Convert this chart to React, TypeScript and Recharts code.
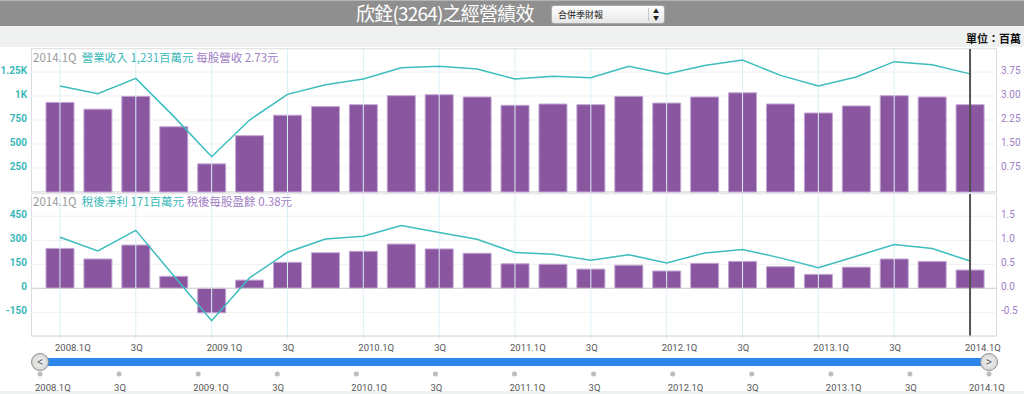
import { ComposedChart, LineChart, Bar, Line, XAxis, YAxis, CartesianGrid, ReferenceLine } from 'recharts';

const quarters = [
  '2008.1Q', '2008.2Q', '2008.3Q', '2008.4Q',
  '2009.1Q', '2009.2Q', '2009.3Q', '2009.4Q',
  '2010.1Q', '2010.2Q', '2010.3Q', '2010.4Q',
  '2011.1Q', '2011.2Q', '2011.3Q', '2011.4Q',
  '2012.1Q', '2012.2Q', '2012.3Q', '2012.4Q',
  '2013.1Q', '2013.2Q', '2013.3Q', '2013.4Q',
  '2014.1Q',
];

// 營業收入 (百萬元)
const revenue = [1104, 1024, 1184, 788, 368, 750, 1017, 1118, 1177, 1295, 1309, 1281, 1177, 1205, 1191, 1309, 1229, 1319, 1375, 1215, 1104, 1198, 1358, 1326, 1231];
// 每股營收 (元)
const revenuePerShare = [2.8, 2.59, 2.99, 2.04, 0.88, 1.76, 2.4, 2.67, 2.73, 3.01, 3.04, 2.97, 2.71, 2.75, 2.73, 2.99, 2.78, 2.97, 3.1, 2.75, 2.47, 2.69, 3.01, 2.97, 2.73];
// 稅後淨利 (百萬元)
const netIncome = [319, 233, 362, 78, -202, 65, 225, 308, 325, 392, 348, 306, 223, 212, 175, 210, 158, 221, 242, 190, 129, 200, 273, 248, 171];
// 稅後每股盈餘 (元)
const eps = [0.83, 0.61, 0.9, 0.25, -0.51, 0.17, 0.54, 0.74, 0.77, 0.92, 0.82, 0.73, 0.51, 0.5, 0.4, 0.48, 0.36, 0.52, 0.56, 0.45, 0.29, 0.44, 0.61, 0.56, 0.38];

const revTicks = [250, 500, 750, 1000, 1250];
const rpsTicks = [0.75, 1.5, 2.25, 3, 3.75];
const niTicks = [-150, 0, 150, 300, 450];
const epsTicks = [-0.5, 0, 0.5, 1, 1.5];

const data = quarters.map((q, i) => ({
  q,
  revenue: revenue[i],
  revenuePerShare: revenuePerShare[i],
  netIncome: netIncome[i],
  eps: eps[i],
}));

const gridQuarters = quarters.filter((_, i) => i % 2 === 0);
const current = quarters[quarters.length - 1];

const TEAL = '#3dbdbd';
const PURPLE = '#8a56a0';
const PURPLE_EDGE = '#c2a6d3';
const TEAL_TEXT = '#3ab8b8';
const PURPLE_TEXT = '#a07dc4';
const TICK_FONT = 'Roboto, "Noto Sans", sans-serif';
const CJK_FONT = '"Noto Sans CJK TC", "Noto Sans", sans-serif';

const shortLabel = (q: string) => (q.endsWith('1Q') ? q : q.slice(5));
const fmtK = (v: number) => (v >= 1000 ? `${v / 1000}K` : `${v}`);

function AxisTick({ x, y, payload }: any) {
  return (
    <text x={x - 5} y={y + 8} textAnchor="start" fontSize={9.5} fill="#555" fontFamily={TICK_FONT}>
      {shortLabel(payload.value)}
    </text>
  );
}

function NavTick({ x, y, payload }: any) {
  const last = payload.value === current;
  return (
    <g>
      <circle cx={x} cy={y + 2} r={2.5} fill="#bdbdbd" />
      <text x={last ? x - 20 : x - 5} y={y + 19} textAnchor="start" fontSize={9.5} fill="#555" fontFamily={TICK_FONT}>
        {shortLabel(payload.value)}
      </text>
    </g>
  );
}

const leftTick = { fill: TEAL_TEXT, fontSize: 10, fontWeight: 700, fontFamily: TICK_FONT, dy: -2 };
const rightTick = { fill: PURPLE_TEXT, fontSize: 10, fontFamily: TICK_FONT, dy: -2 };

function Legend({ top, items }: { top: number; items: [string, string][] }) {
  return (
    <div style={{ position: 'absolute', left: 33, top, fontSize: 11.5, fontFamily: CJK_FONT, whiteSpace: 'pre', lineHeight: '14px' }}>
      <span style={{ color: '#9a9a9a' }}>{current}  </span>
      {items.map(([t, c], i) => (
        <span key={i} style={{ color: c }}>{t}</span>
      ))}
    </div>
  );
}

function Arrow({ left, dir }: { left: number; dir: string }) {
  return (
    <div style={{
      position: 'absolute', left: left - 9, top: 353, width: 16, height: 16, borderRadius: 9,
      background: 'radial-gradient(#f2f2f2, #cfcfcf)', border: '1px solid #8e8e8e',
      color: '#666', fontSize: 12, lineHeight: '16px', textAlign: 'center', fontFamily: TICK_FONT,
    }}>{dir}</div>
  );
}

export default function App() {
  return (
    <div style={{ position: 'fixed', left: 0, top: 0, width: 1024, height: 394, background: '#ffffff', overflow: 'hidden' }}>
      {/* header */}
      <div style={{ position: 'absolute', left: 0, top: 0, width: 1024, height: 25, background: '#8f8f8f', borderTop: '1px solid #b5b5b5' }} />
      <div style={{ position: 'absolute', left: 0, top: 26, width: 1024, height: 21, background: '#eff1f0' }} />
      <div style={{ position: 'absolute', left: 0, top: 391, width: 1024, height: 3, background: '#eff1f0' }} />
      <div style={{ position: 'absolute', left: 356, top: 2, color: '#fff', fontSize: 19, letterSpacing: -0.8, fontFamily: CJK_FONT, lineHeight: '22px' }}>
        欣銓(3264)之經營績效
      </div>
      <div style={{
        position: 'absolute', left: 551, top: 5, width: 114, height: 19, boxSizing: 'border-box', borderRadius: 3,
        border: '1px solid #a9a9a9', background: 'linear-gradient(#ffffff, #e6e6e6)', fontFamily: CJK_FONT,
      }}>
        <span style={{ position: 'absolute', left: 6, top: 2, fontSize: 9, color: '#222', lineHeight: '13px' }}>合併季財報</span>
        <div style={{ position: 'absolute', left: 96, top: 2, width: 1, height: 13, background: '#c8c8c8' }} />
        <span style={{ position: 'absolute', left: 101, top: 1, fontSize: 6, color: '#222', lineHeight: '7px' }}>▲<br />▼</span>
      </div>
      <div style={{ position: 'absolute', right: 3, top: 30, fontSize: 11, fontWeight: 700, color: '#111', fontFamily: CJK_FONT }}>單位：百萬</div>

      {/* plot panels */}
      <div style={{ position: 'absolute', left: 31, top: 48, width: 966, height: 144, boxSizing: 'border-box', border: '1px solid #dadada', background: '#fff' }} />
      <div style={{ position: 'absolute', left: 31, top: 192, width: 966, height: 2, background: '#e4e4e4' }} />
      <div style={{ position: 'absolute', left: 31, top: 194, width: 966, height: 142, boxSizing: 'border-box', borderLeft: '1px solid #dadada', borderRight: '1px solid #dadada' }} />

      {/* 營業收入 / 每股營收 */}
      <div style={{ position: 'absolute', left: 0, top: 0 }}>
        <ComposedChart width={1024} height={194} data={data} margin={{ top: 49, right: 0, bottom: 2, left: 0 }}>
          <CartesianGrid yAxisId="left" vertical={false} stroke="#efefef" />
          <XAxis dataKey="q" hide padding={{ left: 10, right: 8 }} />
          <YAxis yAxisId="left" width={31} domain={[0, 1490]} ticks={revTicks} tickFormatter={fmtK}
            axisLine={false} tickLine={false} tickSize={0} tickMargin={4} tick={leftTick} />
          <YAxis yAxisId="right" orientation="right" width={27} domain={[0, 4.47]} ticks={rpsTicks}
            tickFormatter={(v: number) => v.toFixed(2)} axisLine={false} tickLine={false} tickSize={0} tickMargin={4} tick={rightTick} />
          {gridQuarters.map((q) => (
            <ReferenceLine key={q} x={q} yAxisId="left" stroke="#dcf0f7" />
          ))}
          <Bar yAxisId="right" dataKey="revenuePerShare" barSize={28} fill={PURPLE} stroke={PURPLE_EDGE} strokeWidth={1} isAnimationActive={false} />
          <Line yAxisId="left" type="linear" dataKey="revenue" stroke={TEAL} strokeWidth={1.5} dot={false} activeDot={false} isAnimationActive={false} />
          <ReferenceLine x={current} yAxisId="left" stroke="#444" strokeWidth={2} strokeOpacity={0.9} />
        </ComposedChart>
      </div>

      {/* 稅後淨利 / 稅後每股盈餘 */}
      <div style={{ position: 'absolute', left: 0, top: 190 }}>
        <ComposedChart width={1024} height={190} data={data} margin={{ top: 4, right: 0, bottom: 24, left: 0 }}>
          <CartesianGrid yAxisId="left" vertical={false} stroke="#efefef" />
          <XAxis dataKey="q" height={20} padding={{ left: 10, right: 8 }} interval={1}
            axisLine={{ stroke: '#d6d6d6' }} tickLine={{ stroke: '#cfe9f3' }} tickSize={3} tickMargin={4} tick={<AxisTick />} />
          <YAxis yAxisId="left" width={31} domain={[-298, 589]} ticks={niTicks}
            axisLine={false} tickLine={false} tickSize={0} tickMargin={4} tick={leftTick} />
          <YAxis yAxisId="right" orientation="right" width={27} domain={[-0.993, 1.963]} ticks={epsTicks}
            tickFormatter={(v: number) => v.toFixed(1)} axisLine={false} tickLine={false} tickSize={0} tickMargin={4} tick={rightTick} />
          {gridQuarters.map((q) => (
            <ReferenceLine key={q} x={q} yAxisId="left" stroke="#dcf0f7" />
          ))}
          <ReferenceLine y={0} yAxisId="left" stroke="#cfcfcf" />
          <Bar yAxisId="right" dataKey="eps" barSize={28} fill={PURPLE} stroke={PURPLE_EDGE} strokeWidth={1} isAnimationActive={false} />
          <Line yAxisId="left" type="linear" dataKey="netIncome" stroke={TEAL} strokeWidth={1.5} dot={false} activeDot={false} isAnimationActive={false} />
          <ReferenceLine x={current} yAxisId="left" stroke="#444" strokeWidth={2} strokeOpacity={0.9} />
        </ComposedChart>
      </div>

      <Legend top={50} items={[['營業收入 1,231百萬元 ', TEAL_TEXT], ['每股營收 2.73元', PURPLE_TEXT]]} />
      <Legend top={194} items={[['稅後淨利 171百萬元 ', TEAL_TEXT], ['稅後每股盈餘 0.38元', PURPLE_TEXT]]} />

      {/* navigator */}
      <div style={{ position: 'absolute', left: 0, top: 350 }}>
        <LineChart width={1024} height={44} data={data} margin={{ top: 0, right: 35, bottom: 0, left: 40 }}>
          <XAxis dataKey="q" height={22} interval={1} axisLine={false} tickLine={false} tickSize={0} tickMargin={0} tick={<NavTick />} />
          <YAxis hide domain={[0, 1490]} />
          <Line dataKey="revenue" stroke="none" dot={false} activeDot={false} isAnimationActive={false} />
        </LineChart>
      </div>
      <div style={{ position: 'absolute', left: 40, top: 358, width: 949, height: 8, background: '#2b87ee' }} />
      <Arrow left={40} dir="<" />
      <Arrow left={989} dir=">" />
    </div>
  );
}
